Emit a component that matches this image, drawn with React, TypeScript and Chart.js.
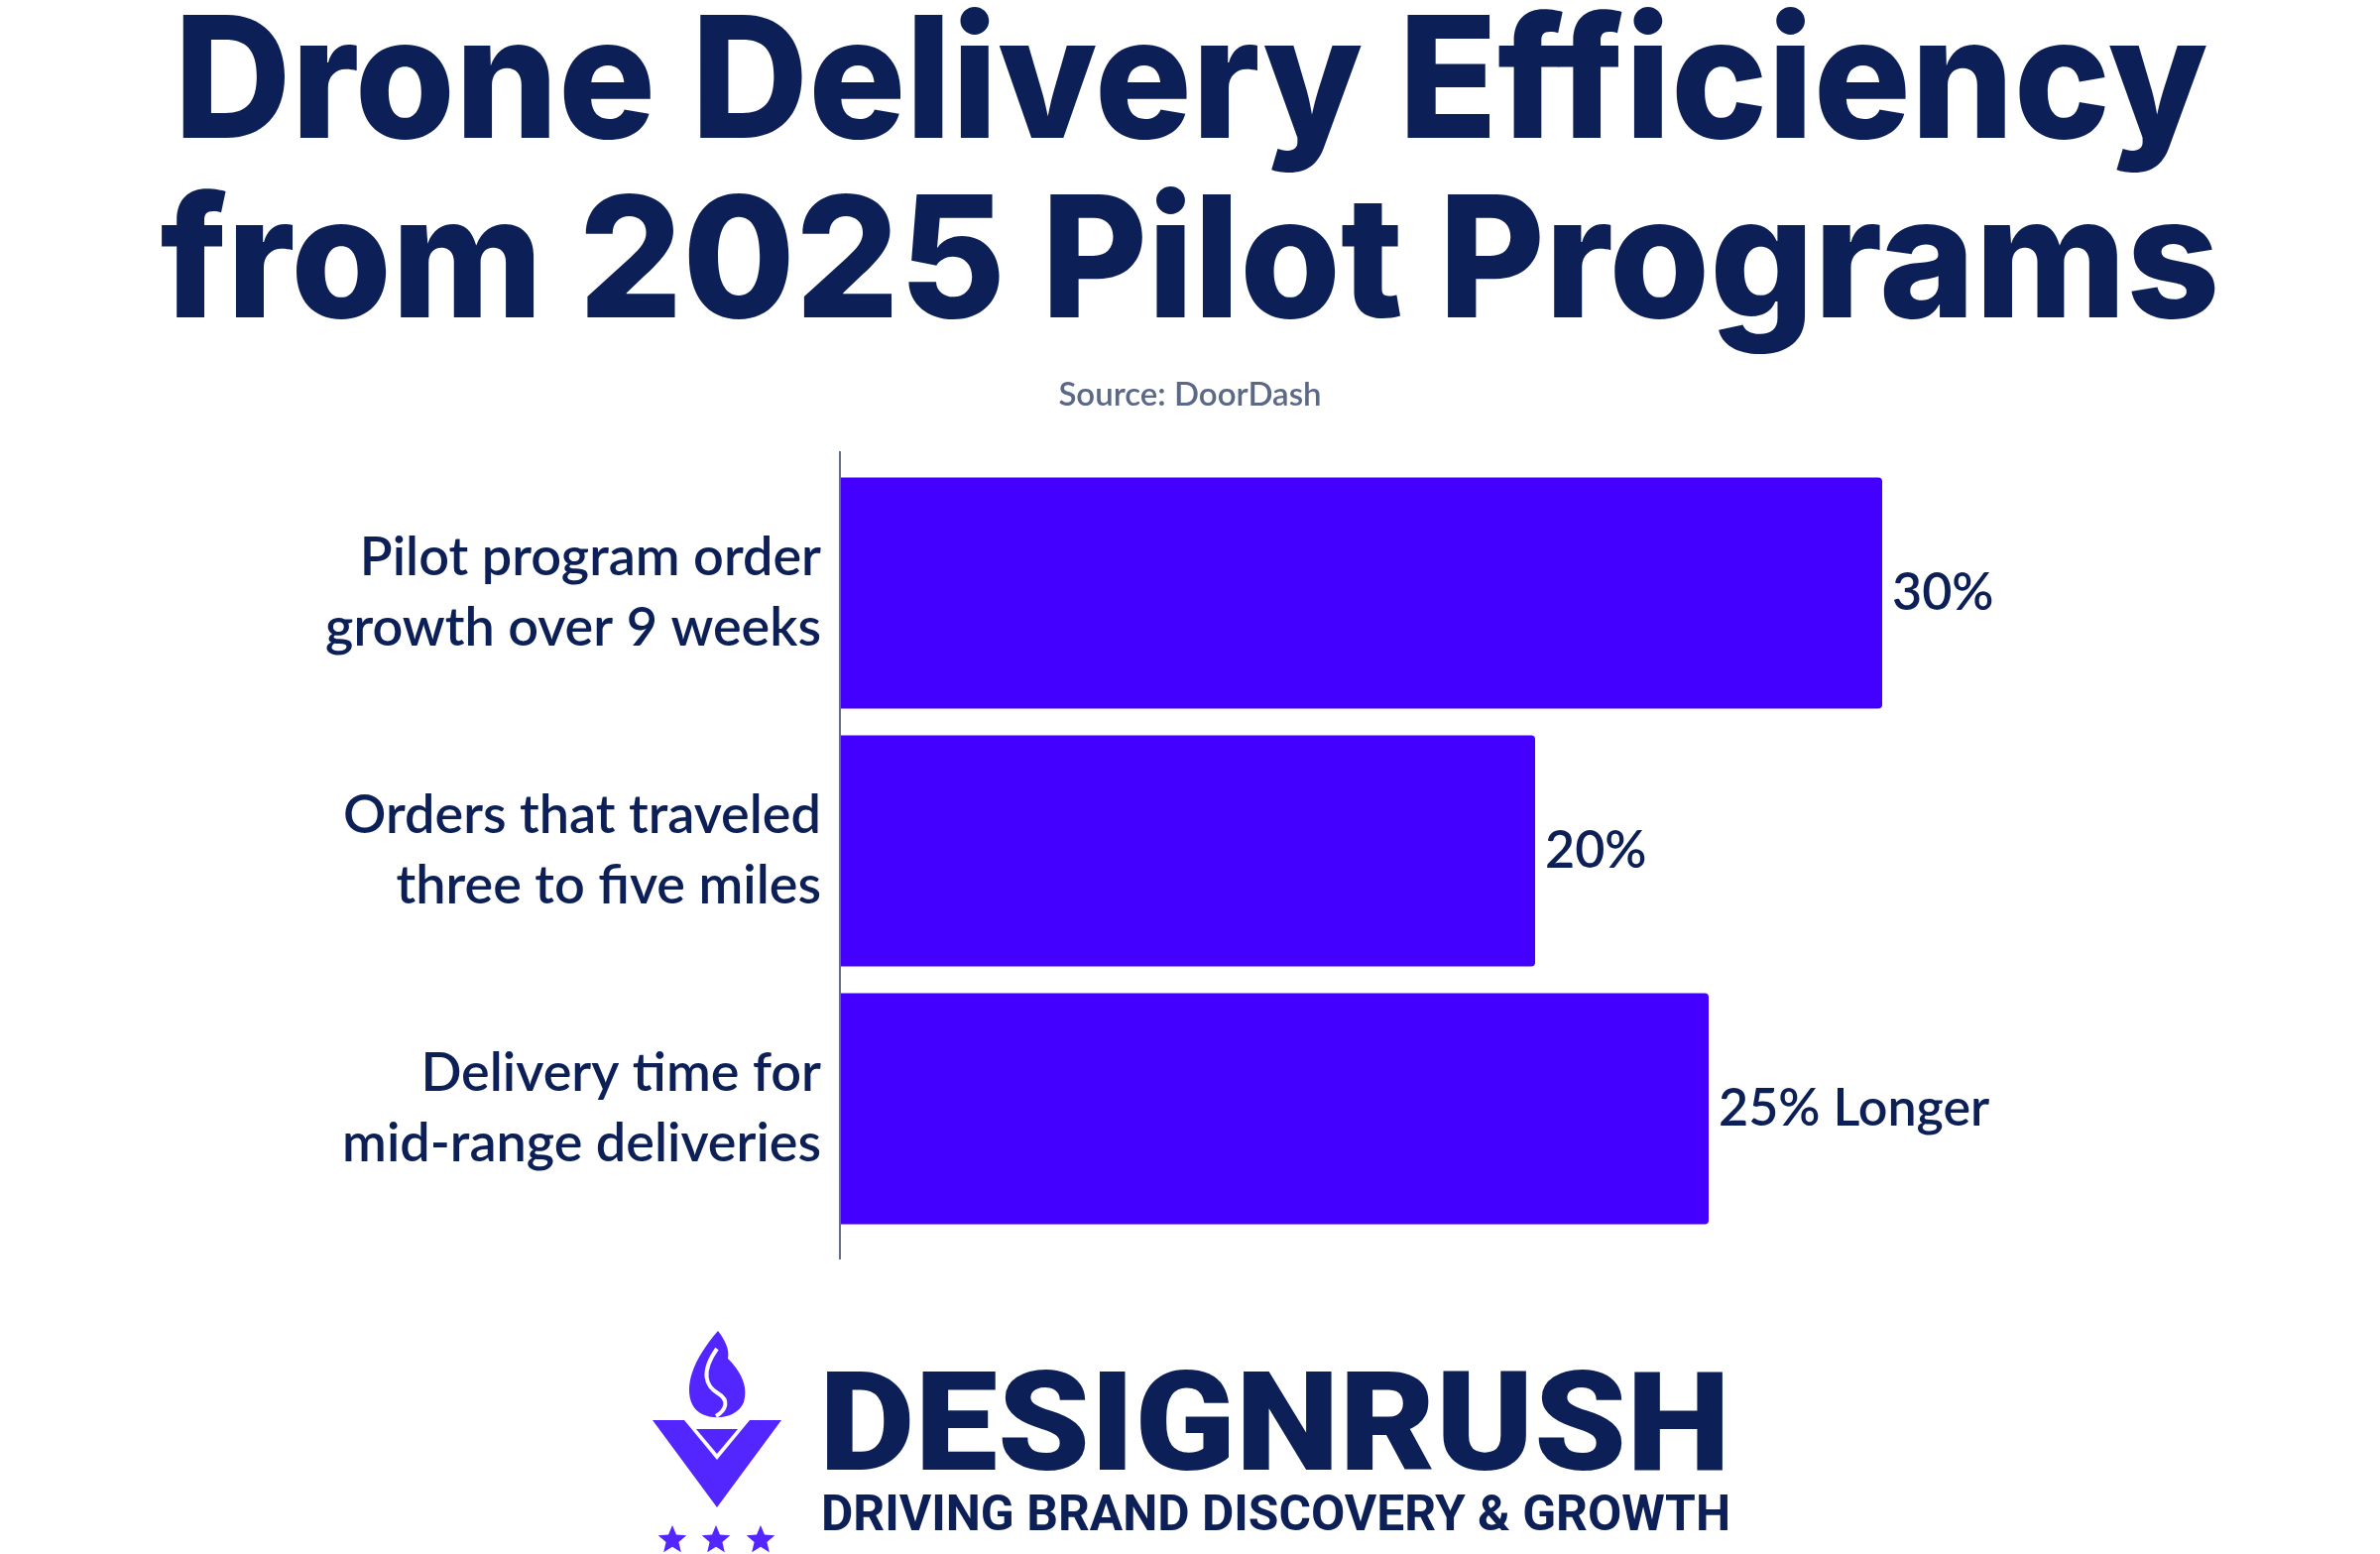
import React, { useEffect, useRef } from "react";
import { Chart, registerables } from "chart.js";

Chart.register(...registerables);

const TITLE_LINES = ["Drone Delivery Efficiency", "from 2025 Pilot Programs"];
const SOURCE_TEXT = "Source: DoorDash";
const CATEGORIES = [
  ["Pilot program order", "growth over 9 weeks"],
  ["Orders that traveled", "three to five miles"],
  ["Delivery time for", "mid-range deliveries"],
];
const VALUES = [30, 20, 25];
const VALUE_LABELS = ["30%", "20%", "25% Longer"];
const BRAND = "DESIGNRUSH";
const TAGLINE = "DRIVING BRAND DISCOVERY & GROWTH";

const NAVY = "#0c2057";
const BAR = "#4400ff";
const LOGO_PURPLE = "#5326ff";

function star(ctx: CanvasRenderingContext2D, cx: number, cy: number, r: number) {
  ctx.beginPath();
  for (let i = 0; i < 10; i++) {
    const rr = i % 2 === 0 ? r : r * 0.45;
    const a = -Math.PI / 2 + (i * Math.PI) / 5;
    const x = cx + rr * Math.cos(a);
    const y = cy + rr * Math.sin(a);
    if (i === 0) ctx.moveTo(x, y);
    else ctx.lineTo(x, y);
  }
  ctx.closePath();
  ctx.fill();
}

function fitText(ctx: CanvasRenderingContext2D, text: string, x: number, y: number, w: number) {
  const m = ctx.measureText(text).width;
  ctx.save();
  ctx.translate(x, y);
  ctx.scale(w / m, 1);
  ctx.fillText(text, 0, 0);
  ctx.restore();
}

const decorPlugin = {
  id: "decor",
  beforeDraw(chart: any) {
    const { ctx, width, height } = chart;
    ctx.save();
    ctx.fillStyle = "#ffffff";
    ctx.fillRect(0, 0, width, height);
    ctx.restore();
  },
  afterDatasetsDraw(chart: any) {
    const { ctx } = chart;
    const xs = chart.scales.x;
    const x0 = xs.getPixelForValue(0);
    ctx.save();
    ctx.strokeStyle = "#646e87";
    ctx.lineWidth = 2;
    ctx.beginPath();
    ctx.moveTo(x0 - 1, chart.chartArea.top - 13);
    ctx.lineTo(x0 - 1, chart.chartArea.bottom + 22);
    ctx.stroke();
    const meta = chart.getDatasetMeta(0);
    ctx.fillStyle = NAVY;
    ctx.font = "600 52px Lato, 'Noto Sans', sans-serif";
    ctx.textAlign = "left";
    ctx.textBaseline = "middle";
    meta.data.forEach((bar: any, i: number) => {
      ctx.fillText(VALUE_LABELS[i], bar.x + 10, bar.y);
    });
    ctx.restore();
  },
  afterDraw(chart: any) {
    const { ctx } = chart;
    ctx.save();
    ctx.fillStyle = NAVY;
    ctx.textAlign = "center";
    ctx.textBaseline = "alphabetic";
    ctx.font = "800 170px Inter, Lato, sans-serif";
    ctx.fillText(TITLE_LINES[0], 1201, 139, 2051);
    ctx.fillText(TITLE_LINES[1], 1200, 320, 2077);
    ctx.fillStyle = "#5b6987";
    ctx.font = "600 33px Lato, 'Noto Sans', sans-serif";
    ctx.fillText(SOURCE_TEXT, 1200, 409);

    ctx.textAlign = "left";
    ctx.fillStyle = NAVY;
    ctx.font = "900 140px Roboto, sans-serif";
    fitText(ctx, BRAND, 826, 1482, 919);
    ctx.font = "700 50px Roboto, sans-serif";
    fitText(ctx, TAGLINE, 828, 1543, 917);

    ctx.fillStyle = LOGO_PURPLE;
    ctx.beginPath();
    ctx.moveTo(658, 1432);
    ctx.lineTo(690, 1432);
    ctx.lineTo(723, 1472);
    ctx.lineTo(756, 1432);
    ctx.lineTo(788, 1432);
    ctx.lineTo(723, 1520);
    ctx.closePath();
    ctx.fill();
    ctx.beginPath();
    ctx.moveTo(702, 1441);
    ctx.lineTo(744, 1441);
    ctx.lineTo(723, 1466);
    ctx.closePath();
    ctx.fill();
    // flame
    ctx.beginPath();
    ctx.moveTo(724, 1342);
    ctx.bezierCurveTo(698, 1372, 690, 1398, 698, 1416);
    ctx.bezierCurveTo(706, 1434, 742, 1434, 750, 1414);
    ctx.bezierCurveTo(756, 1394, 742, 1378, 734, 1370);
    ctx.bezierCurveTo(736, 1360, 730, 1350, 724, 1342);
    ctx.closePath();
    ctx.fill();
    ctx.strokeStyle = "#ffffff";
    ctx.lineWidth = 4;
    ctx.beginPath();
    ctx.moveTo(723, 1360);
    ctx.bezierCurveTo(706, 1384, 712, 1398, 724, 1405);
    ctx.bezierCurveTo(736, 1412, 732, 1422, 722, 1428);
    ctx.stroke();
    star(ctx, 678, 1553, 15);
    star(ctx, 722, 1553, 15);
    star(ctx, 767, 1553, 15);
    ctx.restore();
  },
};

export default function App() {
  const canvasRef = useRef<HTMLCanvasElement | null>(null);

  useEffect(() => {
    const canvas = canvasRef.current;
    if (!canvas) return;
    const chart = new Chart(canvas, {
      type: "bar",
      data: {
        labels: CATEGORIES,
        datasets: [
          {
            data: VALUES,
            backgroundColor: BAR,
            borderRadius: 4,
            borderSkipped: "start",
            categoryPercentage: 1,
            barPercentage: 0.897,
          },
        ],
      },
      options: {
        indexAxis: "y",
        responsive: false,
        animation: false,
        devicePixelRatio: 1,
        layout: { padding: { top: 468, bottom: 319, left: 0, right: 152 } },
        plugins: {
          legend: { display: false },
          title: { display: false },
          tooltip: { enabled: false },
        },
        scales: {
          x: { display: false, min: 0, max: 40 },
          y: {
            afterFit: (s: any) => {
              s.width = 848;
            },
            grid: { display: false, drawTicks: false },
            border: { display: false },
            ticks: {
              color: NAVY,
              padding: 20,
              font: { family: "Lato, 'Noto Sans', sans-serif", size: 54, weight: "600", lineHeight: 1.3 },
            },
          },
        },
      },
      plugins: [decorPlugin],
    });
    return () => chart.destroy();
  }, []);

  return (
    <div style={{ position: "absolute", left: 0, top: 0, width: 2400, height: 1567, background: "#fff" }}>
      <canvas ref={canvasRef} width={2400} height={1567} style={{ display: "block", width: 2400, height: 1567 }} />
    </div>
  );
}
